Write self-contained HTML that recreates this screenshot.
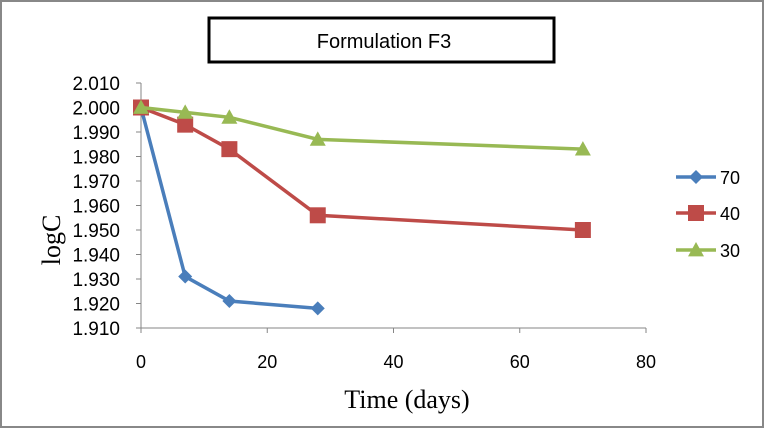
<!DOCTYPE html>
<html><head><meta charset="utf-8"><style>
body{margin:0;background:#fff}
svg{display:block;font-family:"Liberation Sans",sans-serif}
</style></head><body>
<svg width="765" height="429">
<rect x="1" y="1" width="762" height="426" fill="#fff" stroke="#888" stroke-width="2"/>
<rect x="209" y="18" width="345" height="44" fill="#fff" stroke="#000" stroke-width="3"/>
<text x="384" y="48" font-size="20" text-anchor="middle">Formulation F3</text>
<text transform="translate(60,240) rotate(-90)" font-family="Liberation Serif,serif" font-size="26" text-anchor="middle">logC</text>
<text x="407" y="408" font-family="Liberation Serif,serif" font-size="26" text-anchor="middle">Time (days)</text>
<g id="axes"></g><g id="series"></g><g id="legend"></g>
</svg>
<script>
const xTicks=[0,20,40,60,80];
const yTicks=[1.910,1.920,1.930,1.940,1.950,1.960,1.970,1.980,1.990,2.000,2.010];
const seriesNames=["70","40","30"];
const days70=[0,7,14,28];
const vals70=[2.000,1.931,1.921,1.918];
const days40=[0,7,14,28,70];
const vals40=[2.000,1.993,1.983,1.956,1.950];
const days30=[0,7,14,28,70];
const vals30=[2.000,1.998,1.996,1.987,1.983];
const NS="http://www.w3.org/2000/svg";
const X0=141,X1=646,Y0=328,Y1=83;
const sx=v=>X0+(v-0)/(80-0)*(X1-X0);
const sy=v=>Y0-(v-1.910)/(2.010-1.910)*(Y0-Y1);
function mk(t,a,p){const e=document.createElementNS(NS,t);for(const k in a)e.setAttribute(k,a[k]);p.appendChild(e);return e;}
const ax=document.getElementById('axes');
let l=mk('line',{x1:X0,y1:Y1,x2:X0,y2:Y0,stroke:'#868686'},ax);


l=mk('line',{x1:X0,y1:Y0,x2:X1,y2:Y0,stroke:'#868686'},ax);


yTicks.forEach(v=>{const y=sy(v);mk('line',{x1:X0-5,y1:y,x2:X0,y2:y,stroke:'#868686'},ax);
const t=mk('text',{x:X0-21,y:y+7,'font-size':19,'text-anchor':'end'},ax);t.textContent=v.toFixed(3);

});
xTicks.forEach(v=>{const x=sx(v);mk('line',{x1:x,y1:Y0,x2:x,y2:Y0+5,stroke:'#868686'},ax);
const t=mk('text',{x:x,y:Y0+40,'font-size':18,'text-anchor':'middle'},ax);t.textContent=v;

});
const colors=['#4a7ebb','#be4b48','#98b954'];
function marker(kind,x,y,c,p,s){
 if(kind==0)return mk('polygon',{points:`${x},${y-s} ${x+s},${y} ${x},${y+s} ${x-s},${y}`,fill:c},p);
 if(kind==1)return mk('rect',{x:x-s,y:y-s,width:2*s,height:2*s,fill:c},p);
 return mk('polygon',{points:`${x},${y-s} ${x+s},${y+s*0.8} ${x-s},${y+s*0.8}`,fill:c},p);
}
const sr=document.getElementById('series');
const all=[[days70,vals70],[days40,vals40],[days30,vals30]];
const sizes=[7,8,8];
all.forEach(([d,v],i)=>{
 const g=mk('g',{},sr);
 
 
 const pl=mk('polyline',{points:d.map((x,j)=>sx(x)+','+sy(v[j])).join(' '),fill:'none',stroke:colors[i],'stroke-width':3.5},g);
 
 
 d.forEach((x,j)=>{const m=marker(i,sx(x),sy(v[j]),colors[i],g,sizes[i]);
 
 });
});
const lg=document.getElementById('legend');
const ly=[177,213,250];
seriesNames.forEach((n,i)=>{
 const g=mk('g',{},lg);
 
 
 mk('line',{x1:676,y1:ly[i],x2:716,y2:ly[i],stroke:colors[i],'stroke-width':3.5},g);
 marker(i,696,ly[i],colors[i],g,sizes[i]);
 const t=mk('text',{x:720,y:ly[i]+7,'font-size':18},g);t.textContent=n;
});
</script>
</body></html>
